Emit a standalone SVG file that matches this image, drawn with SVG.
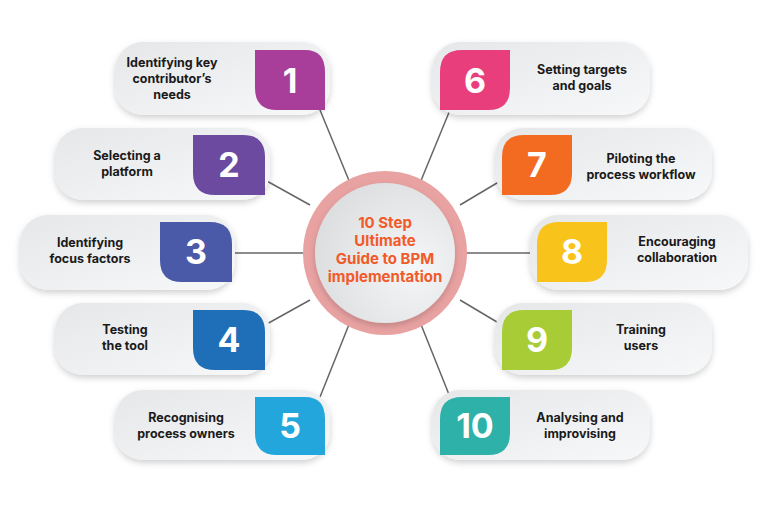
<svg xmlns="http://www.w3.org/2000/svg" width="768" height="512" viewBox="0 0 768 512">
<defs>
<linearGradient id="card" x1="0" y1="0" x2="1" y2="1"><stop offset="0" stop-color="#e6e7e9"/><stop offset="1" stop-color="#f7f8f9"/></linearGradient>
<radialGradient id="inner" cx="0.7" cy="0.6" r="0.8"><stop offset="0" stop-color="#f5f6f7"/><stop offset="1" stop-color="#d9dbdd"/></radialGradient>
<filter id="sh" x="-20%" y="-20%" width="140%" height="150%"><feDropShadow dx="0" dy="3" stdDeviation="3" flood-color="#000" flood-opacity="0.18"/></filter>
</defs>
<style>
.card{fill:url(#card);filter:url(#sh)}
.lbl{font-family:Inter,"Open Sans",sans-serif;font-weight:700;font-size:12.5px;fill:#1a1a1a;text-anchor:middle}
.num{font-family:Inter,"Open Sans",sans-serif;font-weight:700;font-size:34px;fill:#fff;text-anchor:middle}
.ln{stroke:#666;stroke-width:1.5}
</style>
<rect width="768" height="512" fill="#fff"/>
<g id="connectors">
<line class="ln" x1="320" y1="110" x2="350" y2="183"/>
<line class="ln" x1="265" y1="180" x2="310" y2="205"/>
<line class="ln" x1="232" y1="253" x2="303" y2="253"/>
<line class="ln" x1="265" y1="325" x2="310" y2="300"/>
<line class="ln" x1="320" y1="397" x2="350" y2="322"/>
<line class="ln" x1="450" y1="110" x2="420" y2="183"/>
<line class="ln" x1="502" y1="180" x2="460" y2="205"/>
<line class="ln" x1="537" y1="253" x2="467" y2="253"/>
<line class="ln" x1="502" y1="325" x2="460" y2="300"/>
<line class="ln" x1="450" y1="397" x2="420" y2="322"/>
</g>
<g id="center">
<circle cx="385" cy="253" r="82" fill="#e9a2a2"/>
<circle cx="385" cy="253" r="70" fill="url(#inner)" filter="url(#sh)"/>
<g font-family="Inter,'Open Sans',sans-serif" font-weight="700" font-size="15" fill="#f15a29" text-anchor="middle">
<text x="385" y="228">10 Step</text><text x="385" y="246">Ultimate</text><text x="385" y="264">Guide to BPM</text><text x="385" y="282">implementation</text>
</g>
</g>
<g id="node1"><rect class="card" x="115" y="42" width="215" height="73" rx="28"/>
<path d="M255 50H305Q325 50 325 72V110H277Q255 110 255 88Z" fill="#a93d9a"/>
<text class="num" x="290" y="93">1</text>
<text class="lbl" x="172" y="67">Identifying key</text><text class="lbl" x="172" y="83">contributor’s</text><text class="lbl" x="172" y="99">needs</text></g>
<g id="node2"><rect class="card" x="55" y="128" width="215" height="72" rx="28"/>
<path d="M193 135H243Q265 135 265 157V195H215Q193 195 193 173Z" fill="#6b4aa0"/>
<text class="num" x="229" y="177">2</text>
<text class="lbl" x="127" y="160">Selecting a</text><text class="lbl" x="127" y="176">platform</text></g>
<g id="node3"><rect class="card" x="20" y="215" width="215" height="75" rx="28"/>
<path d="M160 222H210Q232 222 232 244V282H182Q160 282 160 260Z" fill="#4b5aa8"/>
<text class="num" x="196" y="264">3</text>
<text class="lbl" x="90" y="247">Identifying</text><text class="lbl" x="90" y="263">focus factors</text></g>
<g id="node4"><rect class="card" x="55" y="303" width="215" height="72" rx="28"/>
<path d="M193 310H243Q265 310 265 332V370H215Q193 370 193 348Z" fill="#1f6fb8"/>
<text class="num" x="229" y="352">4</text>
<text class="lbl" x="125" y="334">Testing</text><text class="lbl" x="125" y="350">the tool</text></g>
<g id="node5"><rect class="card" x="115" y="390" width="215" height="70" rx="28"/>
<path d="M255 397H305Q325 397 325 419V455H277Q255 455 255 433Z" fill="#22a6dc"/>
<text class="num" x="290" y="438">5</text>
<text class="lbl" x="186" y="422">Recognising</text><text class="lbl" x="186" y="438">process owners</text></g>
<g id="node6"><rect class="card" x="432" y="42" width="218" height="73" rx="28"/>
<path d="M462 50H510V88Q510 110 488 110H440V72Q440 50 462 50Z" fill="#e83e7c"/>
<text class="num" x="475" y="93">6</text>
<text class="lbl" x="582" y="74">Setting targets</text><text class="lbl" x="582" y="90">and goals</text></g>
<g id="node7"><rect class="card" x="495" y="128" width="217" height="72" rx="28"/>
<path d="M524 135H572V173Q572 195 550 195H502V157Q502 135 524 135Z" fill="#f26b21"/>
<text class="num" x="537" y="177">7</text>
<text class="lbl" x="641" y="163">Piloting the</text><text class="lbl" x="641" y="179">process workflow</text></g>
<g id="node8"><rect class="card" x="530" y="215" width="218" height="75" rx="28"/>
<path d="M559 222H607V260Q607 282 585 282H537V244Q537 222 559 222Z" fill="#f8c31a"/>
<text class="num" x="572" y="264">8</text>
<text class="lbl" x="677" y="246">Encouraging</text><text class="lbl" x="677" y="262">collaboration</text></g>
<g id="node9"><rect class="card" x="495" y="303" width="217" height="72" rx="28"/>
<path d="M524 310H572V348Q572 370 550 370H502V332Q502 310 524 310Z" fill="#a8cc35"/>
<text class="num" x="537" y="352">9</text>
<text class="lbl" x="641" y="334">Training</text><text class="lbl" x="641" y="350">users</text></g>
<g id="node10"><rect class="card" x="432" y="390" width="218" height="70" rx="28"/>
<path d="M462 397H510V433Q510 455 488 455H440V419Q440 397 462 397Z" fill="#2db1a8"/>
<text class="num" x="475" y="438">10</text>
<text class="lbl" x="580" y="422">Analysing and</text><text class="lbl" x="580" y="438">improvising</text></g>
</svg>
